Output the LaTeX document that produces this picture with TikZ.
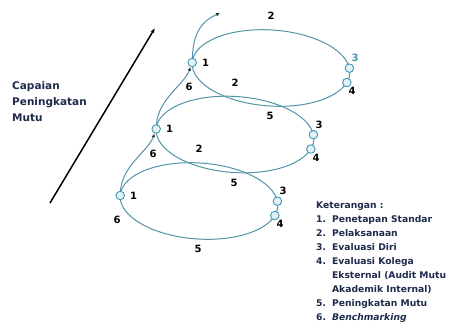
\documentclass[tikz,border=0pt]{standalone}
\usepackage{fontspec}
\setmainfont{DejaVu Sans}
\usepackage{xcolor}
\usepackage{tikz}
\usetikzlibrary{arrows.meta,positioning,calc}
\definecolor{cycleteal}{HTML}{5294A8}
\definecolor{ringteal}{HTML}{3F98B2}
\definecolor{ringfill}{HTML}{E4F2F5}
\definecolor{textnavy}{HTML}{1E2B4A}
\definecolor{tipdark}{HTML}{1F3236}
\tikzset{
  cycleline/.style={draw=cycleteal, line width=1pt},
  stage/.style={circle, draw=ringteal, fill=ringfill, line width=0.9pt, minimum size=8.5pt, inner sep=0pt},
  num/.style={font=\bfseries\fontsize{10}{11}\selectfont, inner sep=1pt},
  riser/.style={draw=cycleteal, line width=1pt, -{Latex[length=4pt,width=3.5pt,color=tipdark]}}
}

\begin{document}
\begin{tikzpicture}[x=1pt,y=-1pt]
  \useasboundingbox (0,0) rectangle (454,322);

  % Achievement arrow
  \coordinate (base) at (50,203);
  \coordinate (peak) at (155,28);
  \draw[-{Latex[length=5pt,width=4pt]}, line width=1.5pt] (base) -- (peak);
  \node[anchor=north west, align=left, inner sep=0pt, text=textnavy, font=\bfseries\fontsize{10.5}{16}\selectfont] (axis) at (12,81) {Capaian\\Peningkatan\\Mutu};

  % Quality cycles, bottom to top
  \foreach \k/\c in {0/black,1/black,2/ringteal} {
    \begin{scope}[shift={(199+36*\k,201-66.5*\k)}, rotate=-4]
      \draw[cycleline] (0,0) ellipse [x radius=79, y radius=38];
      \node[stage] (p\k-1) at (180:79 and 38) {};
      \node[stage] (p\k-3) at (-8:79 and 38) {};
      \node[stage] (p\k-4) at (14:79 and 38) {};
    \end{scope}
    \begin{scope}[shift={(199+36*\k,201-66.5*\k)}]
      \node[num] (l\k-2) at (0,-52) {2};
      \node[num, text=\c] (l\k-3) at (84,-10) {3};
      \node[num] (l\k-4) at (81,23) {4};
      \node[num] (l\k-5) at (-1,48) {5};
      \node[num] (l\k-6) at (-82,19) {6};
    \end{scope}
    \node[num, right=4pt of p\k-1] (l\k-1) {1};
  }

  % Risers between cycles
  \draw[riser] (p0-1) .. controls +(2,-30) and +(-8,22) .. (p1-1);
  \draw[riser] (p1-1) .. controls +(2,-30) and +(-8,22) .. (p2-1);
  \coordinate (crest) at (220,13);
  \draw[riser] (p2-1) .. controls +(1,-30) and +(-18,8) .. (crest);

  % Legend
  \node[anchor=north west, inner sep=0pt, text=textnavy, font=\bfseries\fontsize{9.2}{14}\selectfont] (key) at (316,198) {%
    \begin{tabular}{@{}l@{\hspace{6pt}}l@{}}
      \multicolumn{2}{@{}l}{Keterangan :}\\
      1. & Penetapan Standar\\
      2. & Pelaksanaan\\
      3. & Evaluasi Diri\\
      4. & Evaluasi Kolega\\
         & Eksternal (Audit Mutu\\
         & Akademik Internal)\\
      5. & Peningkatan Mutu\\
      6. & \textit{Benchmarking}
    \end{tabular}};
\end{tikzpicture}
\end{document}
